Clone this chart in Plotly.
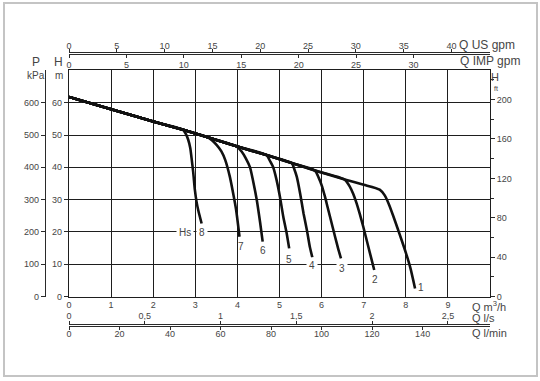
import plotly.graph_objects as go

# ---------------- data ----------------
# shared head line of the pump (Q m3/h, H m)
ENV_Q = [0, 1, 2, 2.71, 3.0, 3.31, 3.98, 4.69, 5.29, 5.84, 6.55, 7.0, 7.38]
ENV_H = [61.8, 58.0, 54.2, 51.6, 50.5, 49.2, 46.5, 43.8, 41.3, 39.0, 36.2, 34.6, 33.1]

# drop-off branch of each curve (first point lies on the shared line)
CURVE_NAMES = ["1", "2", "3", "4", "5", "6", "7", "8"]
DROP_Q = {
    "1": [7.38, 7.50, 7.60, 7.70, 7.80, 7.90, 8.00, 8.11, 8.22],
    "2": [6.55, 6.67, 6.75, 6.83, 6.91, 6.99, 7.05, 7.11, 7.18, 7.25],
    "3": [5.84, 5.93, 6.00, 6.08, 6.14, 6.20, 6.26, 6.32, 6.39, 6.46],
    "4": [5.29, 5.35, 5.41, 5.49, 5.57, 5.65, 5.72, 5.78],
    "5": [4.69, 4.78, 4.85, 4.93, 5.01, 5.09, 5.17, 5.23],
    "6": [3.98, 4.10, 4.20, 4.30, 4.38, 4.46, 4.54, 4.60],
    "7": [3.31, 3.51, 3.62, 3.71, 3.82, 3.90, 3.97, 4.05],
    "8": [2.71, 2.78, 2.83, 2.88, 2.91, 2.95, 2.99, 3.03, 3.07, 3.15],
}
DROP_H = {
    "1": [33.1, 31.3, 28.5, 25.0, 21.3, 17.5, 13.6, 8.8, 2.5],
    "2": [36.2, 34.0, 31.8, 28.9, 25.4, 21.6, 18.5, 15.4, 11.8, 8.2],
    "3": [39.0, 36.8, 34.5, 30.9, 27.8, 24.7, 21.6, 18.5, 15.0, 11.8],
    "4": [41.3, 39.5, 37.1, 31.9, 25.8, 20.6, 15.4, 12.1],
    "5": [43.8, 41.8, 40.0, 36.1, 30.9, 24.7, 19.6, 14.9],
    "6": [46.5, 44.9, 42.8, 40.0, 35.3, 29.9, 22.9, 17.0],
    "7": [49.2, 46.9, 44.9, 42.3, 37.1, 31.9, 26.8, 18.5],
    "8": [51.6, 50.2, 48.6, 46.0, 43.0, 38.5, 33.0, 29.3, 26.7, 22.6],
}

# axis ticks
M3H_TICKS = [0, 1, 2, 3, 4, 5, 6, 7, 8, 9]
H_M_TICKS = [0, 10, 20, 30, 40, 50, 60]
KPA_TICKS = [0, 100, 200, 300, 400, 500, 600]
FT_TICKS = [0, 40, 80, 120, 160, 200]
FT_MINOR = [20, 60, 100, 140, 180, 220]
USGPM_TICKS = [0, 5, 10, 15, 20, 25, 30, 35, 40]
IMPGPM_TICKS = [0, 5, 10, 15, 20, 25, 30]
LS_TICKS = [0, 0.5, 1, 1.5, 2, 2.5]
LS_LABELS = ["0", "0,5", "1", "1,5", "2", "2,5"]
LMIN_TICKS = [0, 20, 40, 60, 80, 100, 120, 140]

Q_MAX = 10
H_MAX = 70
M3H_TO_USGPM = 4.40287
M3H_TO_IMPGPM = 3.66615
M3H_TO_LS = 1 / 3.6
M3H_TO_LMIN = 1000 / 60
M_TO_FT = 3.28084
M_TO_KPA = 10.0

# ---------------- layout helpers ----------------
W, HGT = 540, 381
def px(x):
    return x / W
def py(y):
    return 1 - y / HGT

TXT = "#454545"
AXL = "#2a2a2a"
GRID = "#1e1e1e"
FONT = "Arial, Liberation Sans, sans-serif"

fig = go.Figure()

for name in CURVE_NAMES:
    dq, dh = DROP_Q[name], DROP_H[name]
    q = [v for v in ENV_Q if v < dq[0]] + dq
    h = [ENV_H[i] for i, v in enumerate(ENV_Q) if v < dq[0]] + dh
    fig.add_trace(go.Scatter(x=q, y=h, mode="lines",
                             line=dict(color="#111111", width=2.6, shape="spline", smoothing=0.6),
                             hoverinfo="skip", showlegend=False))

# invisible copies of the shared line in the other units, so each extra axis owns a subplot
def ghost(x, y, xa, ya):
    fig.add_trace(go.Scatter(x=x, y=y, xaxis=xa, yaxis=ya, mode="lines", opacity=0,
                             line=dict(width=0.1, color="white"),
                             showlegend=False, hoverinfo="skip"))

ghost([q * M3H_TO_USGPM for q in ENV_Q], [0.5] * len(ENV_Q), "x2", "y4")
ghost([q * M3H_TO_IMPGPM for q in ENV_Q], [0.5] * len(ENV_Q), "x3", "y4")
ghost([q * M3H_TO_LS for q in ENV_Q], [0.5] * len(ENV_Q), "x4", "y5")
ghost([q * M3H_TO_LMIN for q in ENV_Q], [0.5] * len(ENV_Q), "x5", "y5")
ghost(ENV_Q, [h * M_TO_FT for h in ENV_H], "x", "y2")
ghost(ENV_Q, [h * M_TO_KPA for h in ENV_H], "x", "y3")

X_DOM = [px(69), px(490)]
Y_DOM = [py(296.5), py(70.4)]
TOP_DOM = [py(53.5), py(53.0)]
BOT_DOM = [py(325.5), py(325.0)]
tickfont = dict(family=FONT, size=9, color=TXT)

common = dict(showgrid=False, zeroline=False, tickfont=tickfont, tickcolor=AXL, tickwidth=1,
              linecolor=AXL, linewidth=1.3, autorange=False, fixedrange=True, automargin=False)
hidden_y = dict(range=[0, 1], autorange=False, fixedrange=True, anchor="x",
                showticklabels=False, showgrid=False, zeroline=False, ticks="", showline=False)

fig.update_layout(
    width=W, height=HGT,
    margin=dict(l=0, r=0, t=0, b=0),
    paper_bgcolor="white", plot_bgcolor="white",
    showlegend=False,
    font=dict(family=FONT, color=TXT),
    xaxis=dict(domain=X_DOM, range=[0, Q_MAX], tickvals=M3H_TICKS, ticks="", showgrid=True,
               gridcolor=GRID, gridwidth=1.2, zeroline=False, showline=True, mirror=True,
               linecolor=GRID, linewidth=1.2, tickfont=tickfont, anchor="y", automargin=False,
               fixedrange=True),
    yaxis=dict(domain=Y_DOM, range=[0, H_MAX], tickvals=H_M_TICKS, ticks="outside", ticklen=4,
               tickcolor=AXL, showgrid=True, gridcolor=GRID, gridwidth=1.2, zeroline=False,
               showline=True, mirror=True, linecolor=GRID, linewidth=1.2, tickfont=tickfont,
               anchor="x", automargin=False, fixedrange=True),
    yaxis2=dict(overlaying="y", side="right", anchor="x", range=[0, H_MAX * M_TO_FT],
                tickvals=FT_TICKS, ticks="outside", ticklen=4, showline=False,
                minor=dict(tickvals=FT_MINOR, ticks="outside", ticklen=3, tickcolor=AXL),
                **common),
    yaxis3=dict(overlaying="y", side="left", anchor="free", position=px(45),
                range=[0, H_MAX * M_TO_KPA], tickvals=KPA_TICKS, ticks="outside", ticklen=4,
                showline=True, **common),
    yaxis4=dict(domain=TOP_DOM, **hidden_y),
    yaxis5=dict(domain=BOT_DOM, **hidden_y),
    xaxis2=dict(domain=X_DOM, side="top", anchor="y4",
                range=[0, Q_MAX * M3H_TO_USGPM], tickvals=USGPM_TICKS, ticks="outside", ticklen=3,
                showline=True, **common),
    xaxis3=dict(domain=X_DOM, side="bottom", anchor="y4",
                range=[0, Q_MAX * M3H_TO_IMPGPM], tickvals=IMPGPM_TICKS, ticks="outside", ticklen=3,
                showline=True, **common),
    xaxis4=dict(domain=X_DOM, side="top", anchor="y5",
                range=[0, Q_MAX * M3H_TO_LS], tickvals=LS_TICKS, ticktext=LS_LABELS, ticks="outside",
                ticklen=3, showline=True, **common),
    xaxis5=dict(domain=X_DOM, side="bottom", anchor="y5",
                range=[0, Q_MAX * M3H_TO_LMIN], tickvals=LMIN_TICKS, ticks="outside", ticklen=3,
                showline=True, **common),
)

# pull the outer tick-label rows a little closer to their lines
for ax_name, standoff in [("xaxis2", -4), ("xaxis4", -2), ("xaxis5", -3)]:
    try:
        fig.layout[ax_name].ticklabelstandoff = standoff
    except Exception:
        pass

def note(text, x, y, size=11, xanchor="center", **kw):
    fig.add_annotation(text=text, x=px(x), y=py(y), xref="paper", yref="paper",
                       showarrow=False, xanchor=xanchor, yanchor="middle",
                       font=dict(family=FONT, size=size, color=TXT), **kw)

note("P", 36, 62, 12)
note("kPa", 36, 76, 10)
note("H", 58.5, 62, 12)
note("m", 58.5, 76, 10)
note("H", 495, 77, 11)
note("ft", 496, 89, 7)
note("Q US gpm", 457, 45, 12, xanchor="left")
note("Q IMP gpm", 458, 61, 12, xanchor="left")
note("Q m<sup>3</sup>/h", 470, 306, 11, xanchor="left")
note("Q l/s", 470, 318, 11, xanchor="left")
note("Q l/min", 470, 333, 11, xanchor="left")

# curve number labels placed at each curve's end point
label_shift = {"1": (6, 1), "2": (1, -9), "3": (1, -10), "4": (0, -8.5),
               "5": (0, -11), "6": (0, -9), "7": (1, -10), "8": (0, -9)}
label_bg = {"3", "4", "8"}
for name in CURVE_NAMES:
    xs, ys = label_shift[name]
    fig.add_annotation(text=name, x=DROP_Q[name][-1], y=DROP_H[name][-1], xref="x", yref="y",
                       showarrow=False, xshift=xs, yshift=ys,
                       font=dict(family=FONT, size=10, color=TXT),
                       bgcolor="white" if name in label_bg else None, borderpad=2)
fig.add_annotation(text="Hs", x=DROP_Q["8"][-1], y=DROP_H["8"][-1], xref="x", yref="y",
                   showarrow=False, xshift=-17, yshift=-9,
                   font=dict(family=FONT, size=10, color=TXT), bgcolor="white", borderpad=2)

# outer frame
fig.add_shape(type="rect", xref="paper", yref="paper", x0=px(4), x1=px(537), y0=py(376), y1=py(3),
              line=dict(color="#c4c4c4", width=2), fillcolor="rgba(0,0,0,0)", layer="below")

fig.write_html("out.html")
